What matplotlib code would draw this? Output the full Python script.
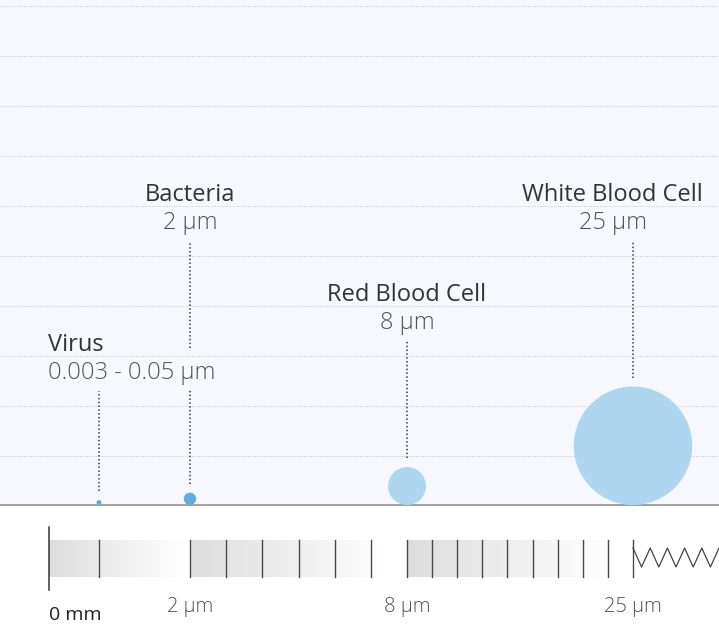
import matplotlib
matplotlib.use("Agg")
import matplotlib.pyplot as plt
import numpy as np
from matplotlib.colors import LinearSegmentedColormap
from matplotlib.patches import Circle

plt.rcParams['font.family'] = ['Open Sans', 'DejaVu Sans']

# data
names = ["Virus", "Bacteria", "Red Blood Cell", "White Blood Cell"]
size_labels = ["0.003 - 0.05 µm", "2 µm", "8 µm", "25 µm"]
size_um = np.array([0.05, 2, 8, 25])
ruler_values = [2, 8, 25]
ruler_labels = ["2 µm", "8 µm", "25 µm"]

# broken ruler scale, µm -> pixels
scale_um = [0, 0.05, 2, 8, 25]
scale_px = [49, 99, 190, 407, 633]


def to_px(um):
    return np.interp(um, scale_um, scale_px)


def radius(um):
    # big cells to scale, tiny ones enlarged so they stay visible
    return np.where(um >= 8, 2.37 * um, 6.2 * (um / 2) ** 0.25)


# layout / style
W, H, BASE = 719, 626, 505
label_level = [3, 6, 4, 6]          # gridline the label sits on
label_align = ["left", "center", "center", "center"]
dark_blue, light_blue = "#5dade2", "#aed6f1"
fs_label, fs_ruler = 17, 14.5

fig = plt.figure(figsize=(W / 100, H / 100), dpi=100)
ax = fig.add_axes([0, (H - BASE) / H, 1, BASE / H])
ax.set_xlim(0, W)
ax.set_ylim(0, BASE)
ax.set_facecolor("#f7f8fd")
ax.set_yticks(np.arange(49, BASE, 50))
ax.set_xticks([])
ax.grid(axis="y", color="#d0d0d0", lw=0.7, ls=(0, (1.2, 1.2)))
ax.tick_params(left=False, labelleft=False)
for s in ["top", "left", "right"]:
    ax.spines[s].set_visible(False)
ax.spines["bottom"].set_color("#9a9a9a")
ax.spines["bottom"].set_linewidth(1.3)

xs = to_px(size_um)
rs = radius(size_um)
for x, r, um in zip(xs, rs, size_um):
    c = light_blue if um >= 8 else dark_blue
    ax.add_patch(Circle((x, r), r, color=c, lw=0, zorder=3))

# labels
titles, subs = [], []
for i, x in enumerate(xs):
    ty = label_level[i] * 50 - 1 + 5
    t1 = ax.text(x, ty, names[i], fontsize=fs_label, color="#333333",
                 ha=label_align[i], va="baseline")
    t2 = ax.text(x, ty - 28, size_labels[i], fontsize=fs_label, color="#555555",
                 weight="light", ha=label_align[i], va="baseline")
    titles.append(t1)
    subs.append(t2)

fig.canvas.draw()
rend = fig.canvas.get_renderer()
blocks = []
for i, x in enumerate(xs):
    w = max(titles[i].get_window_extent(rend).width,
            subs[i].get_window_extent(rend).width)
    if label_align[i] == "left":
        lx = scale_px[0] - 1
        left = lx
    else:
        lx = min(x, W - 16 - w / 2)
        left = lx - w / 2
    titles[i].set_x(lx)
    subs[i].set_x(lx)
    ty = titles[i].get_position()[1]
    blocks.append((left, left + w, ty - 28 - 11, ty + 3))

# dotted leader lines, broken where another label sits
for i, (x, r) in enumerate(zip(xs, rs)):
    y_top = titles[i].get_position()[1] - 28 - 12
    y_bot = 2 * r + 9
    segs = [(y_bot, y_top)]
    for j, (l, rr, b0, b1) in enumerate(blocks):
        if j == i or not (l <= x <= rr):
            continue
        new = []
        for a, b in segs:
            if b1 < a or b0 > b:
                new.append((a, b))
            else:
                if b0 > a:
                    new.append((a, b0))
                if b1 < b:
                    new.append((b1, b))
        segs = new
    for a, b in segs:
        ax.plot([x, x], [a, b], color="#3a3a3a", lw=1.1, ls=(0, (1, 1.5)),
                zorder=2)

# ruler below the chart
rax = fig.add_axes([0, 0, 1, (H - BASE) / H])
grey_fade = LinearSegmentedColormap.from_list("fade", ["#dddddd", "#ffffff"])
grad = np.linspace(0, 1, 256).reshape(1, -1)
bar_top, bar_bot = 35, 72
fades = [(to_px(0), 184), (to_px(2), 389), (to_px(8), 613)]
for x0, x1 in fades:
    rax.imshow(grad, cmap=grey_fade, extent=[x0, x1, bar_bot, bar_top],
               aspect="auto", zorder=1)

ticks = list(to_px([0.05])) + list(to_px(np.arange(2, 8))) + \
    list(np.linspace(to_px(8), to_px(25), 10))
for t in ticks:
    rax.plot([t, t], [bar_top, bar_bot], color="#4a4a4a", lw=1.0, zorder=2)
rax.plot([to_px(0)] * 2, [22, 85], color="#333333", lw=1.1, zorder=2)

zx = np.arange(to_px(25), W + 9, 8.6)
zy = np.where(np.arange(len(zx)) % 2 == 0, 43, 62)
rax.plot(zx, zy, color="#444444", lw=0.9, zorder=2)

for v, lab in zip(ruler_values, ruler_labels):
    rax.text(to_px(v), 107, lab, fontsize=fs_ruler, color="#555555",
             weight="light", ha="center", va="baseline")
rax.text(to_px(0), 115, "0 mm", fontsize=14, color="#222222",
         ha="left", va="baseline")

rax.set_xlim(0, W)
rax.set_ylim(H - BASE, 0)
rax.axis("off")

fig.savefig("out.png", dpi=100, facecolor="white")
